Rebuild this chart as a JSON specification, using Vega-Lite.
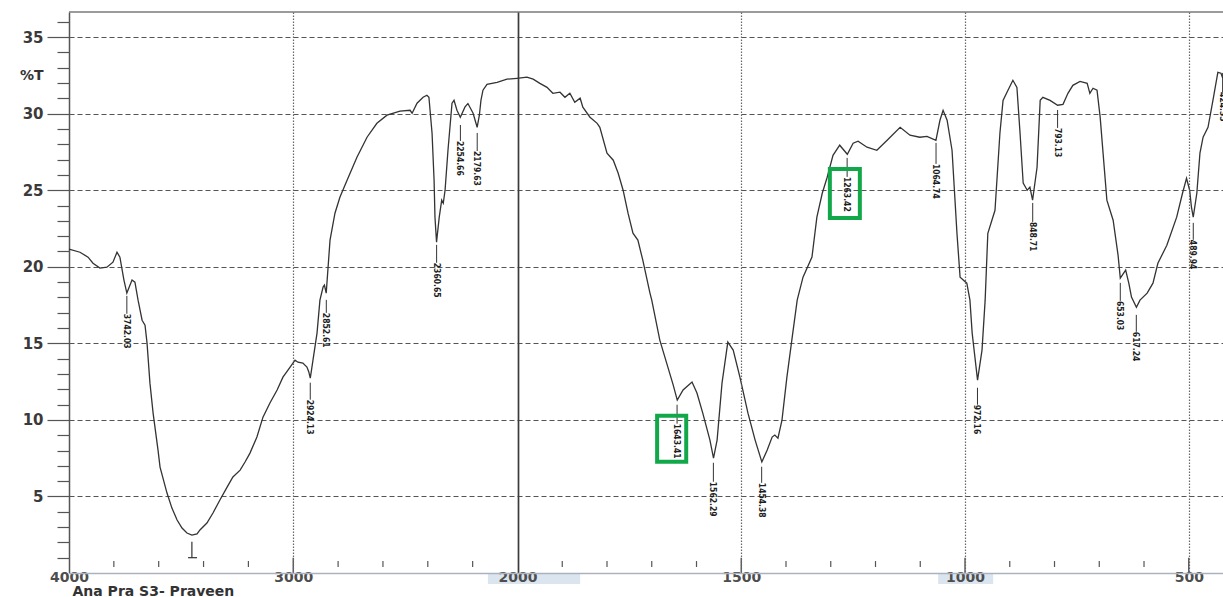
{
  "$schema": "https://vega.github.io/schema/vega-lite/v6.json",
  "width": 1154,
  "height": 561,
  "autosize": {"type": "none"},
  "padding": {"left": 69, "top": 12, "right": 0, "bottom": 24},
  "background": "white",
  "config": {"view": {"stroke": null}, "font": "DejaVu Sans"},
  "datasets": {
    "spectrum": [
      {"wn": 4000, "T": 21.15}, {"wn": 3951, "T": 20.95}, {"wn": 3915, "T": 20.63}, {"wn": 3893, "T": 20.23},
      {"wn": 3862, "T": 19.91}, {"wn": 3831, "T": 19.97}, {"wn": 3804, "T": 20.30}, {"wn": 3786, "T": 20.95},
      {"wn": 3773, "T": 20.63}, {"wn": 3755, "T": 19.13}, {"wn": 3742, "T": 18.28}, {"wn": 3719, "T": 19.13},
      {"wn": 3706, "T": 18.99}, {"wn": 3692, "T": 17.82}, {"wn": 3674, "T": 16.51}, {"wn": 3661, "T": 16.19},
      {"wn": 3652, "T": 15.01}, {"wn": 3639, "T": 12.40}, {"wn": 3625, "T": 10.44}, {"wn": 3603, "T": 8.03},
      {"wn": 3594, "T": 6.92}, {"wn": 3563, "T": 5.22}, {"wn": 3541, "T": 4.24}, {"wn": 3518, "T": 3.46},
      {"wn": 3496, "T": 2.94}, {"wn": 3474, "T": 2.61}, {"wn": 3452, "T": 2.48}, {"wn": 3429, "T": 2.55},
      {"wn": 3416, "T": 2.81}, {"wn": 3385, "T": 3.26}, {"wn": 3358, "T": 3.92}, {"wn": 3327, "T": 4.77},
      {"wn": 3295, "T": 5.61}, {"wn": 3269, "T": 6.27}, {"wn": 3237, "T": 6.72}, {"wn": 3215, "T": 7.25},
      {"wn": 3193, "T": 7.83}, {"wn": 3162, "T": 8.88}, {"wn": 3135, "T": 10.18}, {"wn": 3104, "T": 11.10},
      {"wn": 3072, "T": 11.95}, {"wn": 3046, "T": 12.79}, {"wn": 3014, "T": 13.45}, {"wn": 2992, "T": 13.90},
      {"wn": 2979, "T": 13.77}, {"wn": 2957, "T": 13.71}, {"wn": 2939, "T": 13.45}, {"wn": 2931, "T": 13.15},
      {"wn": 2924, "T": 12.73}, {"wn": 2912, "T": 13.90}, {"wn": 2894, "T": 15.67}, {"wn": 2881, "T": 17.82},
      {"wn": 2867, "T": 18.67}, {"wn": 2861, "T": 18.80}, {"wn": 2853, "T": 18.28}, {"wn": 2836, "T": 21.74},
      {"wn": 2814, "T": 23.50}, {"wn": 2792, "T": 24.54}, {"wn": 2760, "T": 25.65}, {"wn": 2716, "T": 27.15},
      {"wn": 2671, "T": 28.46}, {"wn": 2627, "T": 29.37}, {"wn": 2582, "T": 29.90}, {"wn": 2524, "T": 30.16},
      {"wn": 2479, "T": 30.22}, {"wn": 2470, "T": 30.03}, {"wn": 2448, "T": 30.68}, {"wn": 2421, "T": 31.07},
      {"wn": 2404, "T": 31.20}, {"wn": 2395, "T": 31.07}, {"wn": 2381, "T": 28.72}, {"wn": 2372, "T": 25.65},
      {"wn": 2368, "T": 23.24}, {"wn": 2361, "T": 21.61}, {"wn": 2349, "T": 23.24}, {"wn": 2338, "T": 24.35},
      {"wn": 2331, "T": 24.15}, {"wn": 2323, "T": 25.00}, {"wn": 2310, "T": 27.61}, {"wn": 2292, "T": 30.68},
      {"wn": 2283, "T": 30.87}, {"wn": 2270, "T": 30.22}, {"wn": 2255, "T": 29.77}, {"wn": 2234, "T": 30.44},
      {"wn": 2221, "T": 30.66}, {"wn": 2198, "T": 30.03}, {"wn": 2180, "T": 29.11}, {"wn": 2170, "T": 29.90},
      {"wn": 2163, "T": 30.87}, {"wn": 2154, "T": 31.53}, {"wn": 2136, "T": 31.92}, {"wn": 2091, "T": 32.05},
      {"wn": 2047, "T": 32.25}, {"wn": 2002, "T": 32.31}, {"wn": 1979, "T": 32.38}, {"wn": 1965, "T": 32.25},
      {"wn": 1950, "T": 31.98}, {"wn": 1934, "T": 31.72}, {"wn": 1921, "T": 31.33}, {"wn": 1905, "T": 31.40},
      {"wn": 1894, "T": 31.07}, {"wn": 1883, "T": 31.33}, {"wn": 1872, "T": 30.74}, {"wn": 1860, "T": 31.01},
      {"wn": 1854, "T": 30.42}, {"wn": 1838, "T": 29.77}, {"wn": 1822, "T": 29.37}, {"wn": 1816, "T": 29.11},
      {"wn": 1800, "T": 27.42}, {"wn": 1786, "T": 26.96}, {"wn": 1775, "T": 26.11}, {"wn": 1764, "T": 25.00},
      {"wn": 1753, "T": 23.50}, {"wn": 1742, "T": 22.19}, {"wn": 1731, "T": 21.74}, {"wn": 1720, "T": 20.43},
      {"wn": 1704, "T": 18.28}, {"wn": 1700, "T": 17.82}, {"wn": 1682, "T": 15.21}, {"wn": 1664, "T": 13.45},
      {"wn": 1652, "T": 12.27}, {"wn": 1643, "T": 11.29}, {"wn": 1630, "T": 11.95}, {"wn": 1610, "T": 12.47},
      {"wn": 1599, "T": 11.75}, {"wn": 1586, "T": 10.44}, {"wn": 1570, "T": 8.68}, {"wn": 1562, "T": 7.51},
      {"wn": 1554, "T": 8.68}, {"wn": 1543, "T": 12.40}, {"wn": 1530, "T": 15.08}, {"wn": 1518, "T": 14.56},
      {"wn": 1503, "T": 12.79}, {"wn": 1485, "T": 10.44}, {"wn": 1469, "T": 8.68}, {"wn": 1454, "T": 7.25},
      {"wn": 1442, "T": 8.03}, {"wn": 1431, "T": 8.88}, {"wn": 1425, "T": 9.01}, {"wn": 1418, "T": 8.81},
      {"wn": 1409, "T": 9.99}, {"wn": 1398, "T": 12.79}, {"wn": 1387, "T": 15.21}, {"wn": 1375, "T": 17.82},
      {"wn": 1362, "T": 19.32}, {"wn": 1342, "T": 20.63}, {"wn": 1331, "T": 23.24}, {"wn": 1319, "T": 24.80},
      {"wn": 1308, "T": 25.85}, {"wn": 1295, "T": 27.28}, {"wn": 1280, "T": 27.94}, {"wn": 1263, "T": 27.35},
      {"wn": 1250, "T": 28.07}, {"wn": 1239, "T": 28.20}, {"wn": 1219, "T": 27.81}, {"wn": 1197, "T": 27.61},
      {"wn": 1174, "T": 28.26}, {"wn": 1145, "T": 29.11}, {"wn": 1123, "T": 28.59}, {"wn": 1101, "T": 28.46},
      {"wn": 1085, "T": 28.52}, {"wn": 1065, "T": 28.26}, {"wn": 1056, "T": 29.57}, {"wn": 1049, "T": 30.22},
      {"wn": 1040, "T": 29.57}, {"wn": 1029, "T": 27.61}, {"wn": 1018, "T": 22.19}, {"wn": 1011, "T": 19.32},
      {"wn": 996, "T": 18.93}, {"wn": 989, "T": 17.82}, {"wn": 984, "T": 15.67}, {"wn": 972, "T": 12.60},
      {"wn": 962, "T": 14.56}, {"wn": 955, "T": 17.82}, {"wn": 949, "T": 22.19}, {"wn": 933, "T": 23.69},
      {"wn": 922, "T": 28.72}, {"wn": 915, "T": 30.87}, {"wn": 904, "T": 31.53}, {"wn": 893, "T": 32.18},
      {"wn": 884, "T": 31.72}, {"wn": 877, "T": 28.72}, {"wn": 870, "T": 25.46}, {"wn": 861, "T": 25.00},
      {"wn": 855, "T": 25.20}, {"wn": 849, "T": 24.35}, {"wn": 839, "T": 26.50}, {"wn": 832, "T": 30.87},
      {"wn": 826, "T": 31.07}, {"wn": 810, "T": 30.87}, {"wn": 793, "T": 30.55}, {"wn": 781, "T": 30.61},
      {"wn": 770, "T": 31.33}, {"wn": 759, "T": 31.85}, {"wn": 743, "T": 32.11}, {"wn": 727, "T": 31.98},
      {"wn": 721, "T": 31.33}, {"wn": 714, "T": 31.66}, {"wn": 705, "T": 31.53}, {"wn": 698, "T": 29.77},
      {"wn": 683, "T": 24.35}, {"wn": 669, "T": 23.04}, {"wn": 658, "T": 20.76}, {"wn": 653, "T": 19.26},
      {"wn": 641, "T": 19.78}, {"wn": 634, "T": 18.93}, {"wn": 628, "T": 18.02}, {"wn": 617, "T": 17.36},
      {"wn": 609, "T": 17.82}, {"wn": 593, "T": 18.28}, {"wn": 580, "T": 18.93}, {"wn": 569, "T": 20.23},
      {"wn": 549, "T": 21.41}, {"wn": 527, "T": 23.24}, {"wn": 514, "T": 24.80}, {"wn": 505, "T": 25.78},
      {"wn": 498, "T": 25.00}, {"wn": 494, "T": 23.89}, {"wn": 490, "T": 23.24}, {"wn": 482, "T": 24.80},
      {"wn": 475, "T": 27.42}, {"wn": 468, "T": 28.46}, {"wn": 457, "T": 29.11}, {"wn": 446, "T": 30.87},
      {"wn": 435, "T": 32.70}, {"wn": 428, "T": 32.64}, {"wn": 424, "T": 32.31}
    ],
    "peaks": [
      {"wn": 3742.03, "top": 18.10, "bot": 16.93},
      {"wn": 2924.13, "top": 12.43, "bot": 11.32},
      {"wn": 2852.61, "top": 17.84, "bot": 16.99},
      {"wn": 2360.65, "top": 21.43, "bot": 20.26},
      {"wn": 2254.66, "top": 29.26, "bot": 28.22},
      {"wn": 2179.63, "top": 28.74, "bot": 27.56},
      {"wn": 1643.41, "top": 10.99, "bot": 9.75},
      {"wn": 1562.29, "top": 7.20, "bot": 5.96},
      {"wn": 1454.38, "top": 6.94, "bot": 5.89},
      {"wn": 1263.42, "top": 27.11, "bot": 25.87},
      {"wn": 1064.74, "top": 28.09, "bot": 26.72},
      {"wn": 972.16, "top": 12.10, "bot": 10.99},
      {"wn": 848.71, "top": 24.17, "bot": 22.93},
      {"wn": 793.13, "top": 30.24, "bot": 29.07},
      {"wn": 653.03, "top": 18.95, "bot": 17.77},
      {"wn": 617.24, "top": 16.86, "bot": 15.75},
      {"wn": 489.94, "top": 22.87, "bot": 21.76},
      {"wn": 424.35, "top": 32.66, "bot": 31.41}
    ],
    "band": [{"wn": 3452, "top": 2.04, "bot": 1.0, "wnA": 3469, "wnB": 3429}],
    "boxes": [
      {"x1": 1688, "x2": 1623, "y1": 10.27, "y2": 7.27},
      {"x1": 1302, "x2": 1235, "y1": 26.38, "y2": 23.19}
    ],
    "shade": [
      {"x1": 2132, "x2": 1860},
      {"x1": 1060, "x2": 937}
    ],
    "ticks": [
      {"wn": 3800, "major": false}, {"wn": 3600, "major": false}, {"wn": 3400, "major": false},
      {"wn": 3200, "major": false}, {"wn": 3000, "major": true}, {"wn": 2800, "major": false},
      {"wn": 2600, "major": false}, {"wn": 2400, "major": false}, {"wn": 2200, "major": false},
      {"wn": 1900, "major": false}, {"wn": 1800, "major": false}, {"wn": 1700, "major": false},
      {"wn": 1600, "major": false}, {"wn": 1500, "major": true}, {"wn": 1400, "major": false},
      {"wn": 1300, "major": false}, {"wn": 1200, "major": false}, {"wn": 1100, "major": false},
      {"wn": 1000, "major": true}, {"wn": 900, "major": false}, {"wn": 800, "major": false},
      {"wn": 700, "major": false}, {"wn": 600, "major": false}, {"wn": 500, "major": true}
    ]
  },
  "layer": [
    {
      "data": {"name": "spectrum"},
      "mark": {"type": "line", "color": "#333333", "strokeWidth": 1.3, "interpolate": "linear"},
      "encoding": {
        "x": {
          "field": "wn", "type": "quantitative",
          "scale": {"domain": [4000, 2000, 423.5], "range": [0, 448.5, 1154], "zero": false, "nice": false},
          "axis": {
            "values": [4000, 3000, 2000, 1500, 1000, 500],
            "tickCount": 20,
            "format": "d",
            "ticks": false,
            "zindex": 1,
            "labelFont": "DejaVu Sans", "labelFontWeight": "bold", "labelFontSize": 14,
            "labelColor": "#4d4d4d", "labelPadding": -3, "labelBaseline": "top",
            "labelFlush": false, "labelOverlap": false,
            "domainColor": "#aab2bf", "domainWidth": 1.5,
            "grid": true,
            "gridColor": {"condition": {"test": "datum.value === 2000", "value": "#3a3a3a"}, "value": "#666666"},
            "gridDash": {"condition": {"test": "datum.value === 2000", "value": []}, "value": [1.5, 1.5]},
            "gridWidth": {"condition": {"test": "datum.value === 2000", "value": 1.7}, "value": 1.2},
            "gridOpacity": {"condition": {"test": "datum.value === 4000", "value": 0}, "value": 1},
            "title": "Ana Pra S3- Praveen",
            "titleFont": "DejaVu Sans", "titleFontWeight": "bold", "titleFontSize": 14, "titleColor": "#333333",
            "titleAnchor": "start", "titleAlign": "left", "titleBaseline": "alphabetic",
            "titleX": 3, "titleY": 22
          }
        },
        "y": {
          "field": "T", "type": "quantitative",
          "scale": {"domain": [0, 36.64], "zero": false, "nice": false},
          "axis": {
            "values": [1, 2, 3, 4, 5, 6, 7, 8, 9, 10, 11, 12, 13, 14, 15, 16, 17, 18, 19, 20, 21, 22, 23, 24, 25, 26, 27, 28, 29, 30, 31, 32, 33, 34, 35, 36],
            "tickCount": 60,
            "format": "d",
            "labelExpr": "datum.value % 5 === 0 ? datum.label : ''",
            "labelFont": "DejaVu Sans", "labelFontWeight": "bold", "labelFontSize": 15,
            "labelColor": "#3a3a3a", "labelPadding": 4, "labelOverlap": false,
            "tickColor": "#555555", "tickWidth": 1.2,
            "tickSize": {"condition": {"test": "datum.value % 5 === 0", "value": 22}, "value": 12},
            "domainColor": "#555555", "domainWidth": 1.5,
            "grid": true,
            "gridColor": "#555555", "gridDash": [5, 3], "gridWidth": 1,
            "gridOpacity": {"condition": {"test": "datum.value % 5 === 0", "value": 1}, "value": 0},
            "title": "%T",
            "titleFont": "DejaVu Sans", "titleFontWeight": "bold", "titleFontSize": 14, "titleColor": "#333333",
            "titleAngle": 0, "titleAlign": "right", "titleBaseline": "middle",
            "titleX": -26, "titleY": 63
          }
        }
      }
    },
    {
      "data": {"name": "shade"},
      "mark": {"type": "rect", "color": "#dbe5f0", "clip": false},
      "encoding": {
        "x": {"field": "x1", "type": "quantitative"},
        "x2": {"field": "x2"},
        "y": {"datum": 0, "type": "quantitative"},
        "y2": {"datum": -0.72}
      }
    },
    {
      "data": {"name": "ticks"},
      "transform": [{"filter": "!datum.major"}],
      "mark": {"type": "rule", "color": "#555555", "strokeWidth": 1.2},
      "encoding": {
        "x": {"field": "wn", "type": "quantitative"},
        "y": {"datum": 0.39, "type": "quantitative"},
        "y2": {"datum": 0.78}
      }
    },
    {
      "data": {"name": "ticks"},
      "transform": [{"filter": "datum.major"}],
      "mark": {"type": "rule", "color": "#555555", "strokeWidth": 1.4},
      "encoding": {
        "x": {"field": "wn", "type": "quantitative"},
        "y": {"datum": 0, "type": "quantitative"},
        "y2": {"datum": 1.0}
      }
    },
    {
      "data": {"values": [{}]},
      "mark": {"type": "rule", "color": "#7a7a7a", "strokeWidth": 1.5},
      "encoding": {
        "y": {"datum": 36.64, "type": "quantitative"}
      }
    },
    {
      "data": {"name": "peaks"},
      "mark": {"type": "rule", "color": "#333333", "strokeWidth": 1},
      "encoding": {
        "x": {"field": "wn", "type": "quantitative"},
        "y": {"field": "top", "type": "quantitative"},
        "y2": {"field": "bot"}
      }
    },
    {
      "data": {"name": "peaks"},
      "mark": {"type": "text", "angle": 90, "align": "left", "baseline": "middle", "font": "Liberation Sans Narrow, DejaVu Sans Condensed, sans-serif", "fontSize": 8.5, "fontWeight": "bold", "color": "#1e1e1e"},
      "encoding": {
        "x": {"field": "wn", "type": "quantitative"},
        "y": {"field": "bot", "type": "quantitative"},
        "text": {"field": "wn", "type": "quantitative", "format": ".2f"}
      }
    },
    {
      "data": {"name": "band"},
      "mark": {"type": "rule", "color": "#333333", "strokeWidth": 1.2},
      "encoding": {
        "x": {"field": "wn", "type": "quantitative"},
        "y": {"field": "top", "type": "quantitative"},
        "y2": {"field": "bot"}
      }
    },
    {
      "data": {"name": "band"},
      "mark": {"type": "rule", "color": "#333333", "strokeWidth": 1.2},
      "encoding": {
        "x": {"field": "wnA", "type": "quantitative"},
        "x2": {"field": "wnB"},
        "y": {"field": "bot", "type": "quantitative"}
      }
    },
    {
      "data": {"name": "boxes"},
      "mark": {"type": "rect", "fill": null, "fillOpacity": 0, "stroke": "#12a84a", "strokeWidth": 4},
      "encoding": {
        "x": {"field": "x1", "type": "quantitative"},
        "x2": {"field": "x2"},
        "y": {"field": "y1", "type": "quantitative"},
        "y2": {"field": "y2"}
      }
    }
  ]
}
